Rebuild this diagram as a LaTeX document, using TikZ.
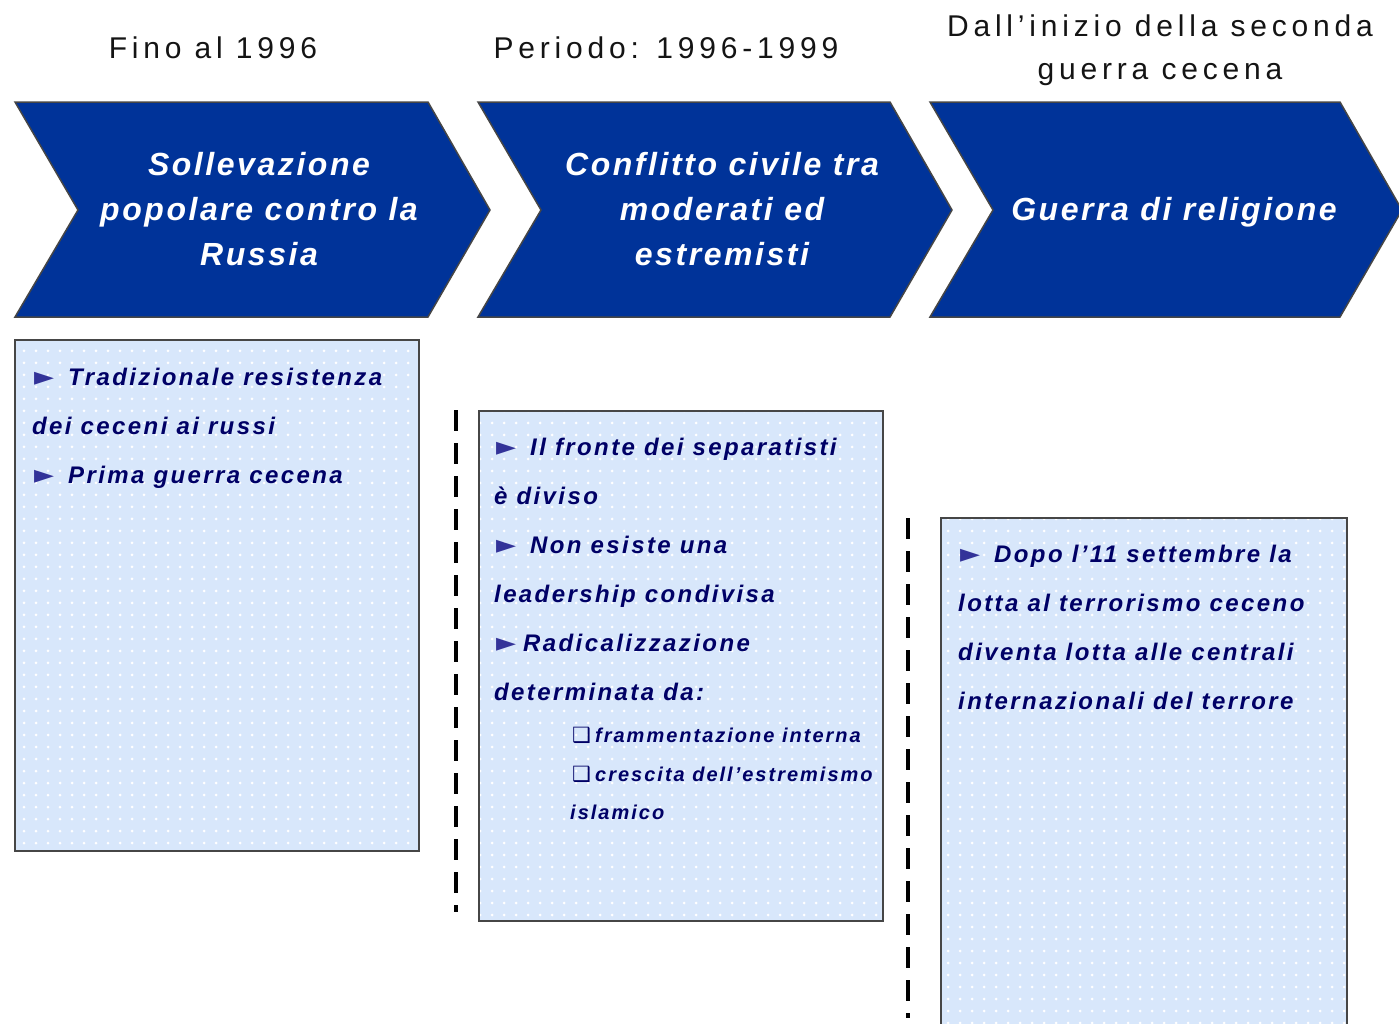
\documentclass[tikz,border=0pt]{standalone}
\usepackage{fontspec}
\setmainfont{Liberation Sans}
\newfontfamily\headfont[LetterSpace=16]{Liberation Sans}
\newfontfamily\chevfont[LetterSpace=8]{Liberation Sans}
\newfontfamily\boxfont[LetterSpace=10]{Liberation Sans}
\newfontfamily\symfont{DejaVu Sans}
\usetikzlibrary{patterns.meta}

\definecolor{chevblue}{RGB}{0,51,153}
\definecolor{boxblue}{RGB}{216,231,251}
\definecolor{txtnavy}{RGB}{0,0,102}
\definecolor{bulblue}{RGB}{51,51,153}
\definecolor{edgegray}{RGB}{70,70,70}
\definecolor{headgray}{RGB}{20,20,20}

% bullets
\newcommand{\bul}{\makebox[36pt][l]{\hspace*{2pt}{\symfont\color{bulblue}\fontsize{26}{26}\selectfont ►}}}
\newcommand{\bulx}{\makebox[29pt][l]{\hspace*{2pt}{\symfont\color{bulblue}\fontsize{26}{26}\selectfont ►}}}
\newcommand{\sqbul}{\makebox[23pt][l]{{\symfont\fontsize{21}{21}\selectfont ❑}}}

\begin{document}
\begin{tikzpicture}[x=1pt, y=-1pt, line join=miter,
    chev/.style={fill=chevblue, draw=edgegray, line width=1.5pt},
    chevtext/.style={text=white, font=\chevfont\bfseries\itshape\fontsize{32}{45}\selectfont, align=center},
    headtext/.style={text=headgray, font=\headfont\fontsize{30}{43}\selectfont, align=center},
    infobox/.style={draw=edgegray, line width=2pt, preaction={fill=boxblue},
      pattern={Dots[distance=12pt, radius=1.5pt]}, pattern color=white,
      anchor=north west, inner sep=0pt},
    boxtext/.style={text=txtnavy, font=\boxfont\bfseries\itshape\fontsize{24}{49}\selectfont,
      align=left, anchor=north west, inner sep=0pt},
    subtext/.style={boxtext, font=\boxfont\bfseries\itshape\fontsize{20}{38.5}\selectfont},
    sepline/.style={line width=4.5pt, dash pattern=on 21pt off 12pt}]

  % page frame
  \useasboundingbox (0,0) rectangle (1399,1023);
  \clip (0,0) rectangle (1399,1023);

  % period headings
  \node[headtext] (hd1) at (213,48) {Fino al 1996};
  \node[headtext] (hd2) at (666,48) {Periodo: 1996-1999};
  \node[headtext] (hd3) at (1160,50) {Dall’inizio della seconda\\guerra cecena};

  % chevrons
  \foreach \x/\w in {15/413, 478/412, 930/410}
    \draw[chev] (\x,102) -- ++(\w,0) -- ++(62,108) -- ++(-62,107)
      -- ++(-\w,0) -- ++(63,-107) -- cycle;
  \node[chevtext] (ch1) at (259,209) {Sollevazione\\popolare contro la\\Russia};
  \node[chevtext] (ch2) at (722,209) {Conflitto civile tra\\moderati ed\\estremisti};
  \node[chevtext] (ch3) at (1174,212) {Guerra di religione};

  % detail boxes
  \node[infobox, minimum width=404pt, minimum height=511pt] (box1) at (14,339) {};
  \node[infobox, minimum width=404pt, minimum height=510pt] (box2) at (478,410) {};
  \node[infobox, minimum width=406pt, minimum height=563pt] (box3) at (940,517) {};

  % separators
  \draw[sepline] (456,410) -- (456,912);
  \draw[sepline] (908,518) -- (908,1018);

  % box contents
  \node[boxtext] (txt1) at (32,368)
    {\bul Tradizionale resistenza\\dei ceceni ai russi\\\bul Prima guerra cecena};
  \node[boxtext] (txt2) at (494,438)
    {\bul Il fronte dei separatisti\\è diviso\\\bul Non esiste una\\leadership condivisa\\\bulx Radicalizzazione\\determinata da:};
  \node[subtext] (txt2b) at (570,727)
    {\hspace*{2pt}\sqbul frammentazione interna\\\hspace*{2pt}\sqbul crescita dell’estremismo\\islamico};
  \node[boxtext] (txt3) at (958,545)
    {\bul Dopo l’11 settembre la\\lotta al terrorismo ceceno\\diventa lotta alle centrali\\internazionali del terrore};
\end{tikzpicture}
\end{document}
